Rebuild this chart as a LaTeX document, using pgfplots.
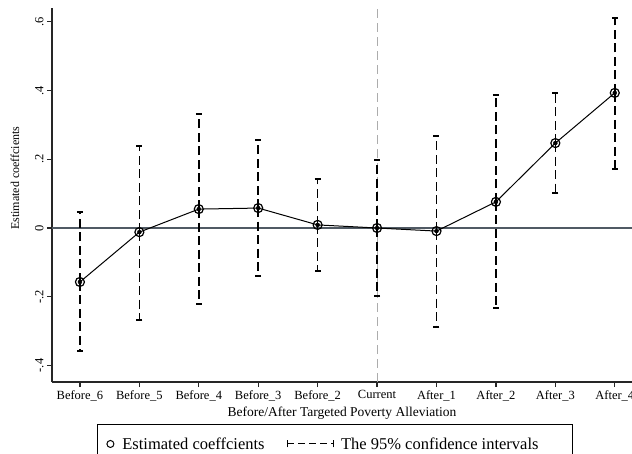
\documentclass[border=0pt]{standalone}
\usepackage{fontspec}
\setmainfont{Liberation Serif}
\usepackage{pgfplots}
\pgfplotsset{compat=1.18}
\usepackage{pgfplotstable}
\definecolor{zeroline}{RGB}{80,90,100}

\pgfplotstableread{
x y lo hi
0 -0.157 -0.358 0.047
1 -0.012 -0.268 0.239
2 0.055 -0.221 0.332
3 0.058 -0.140 0.256
4 0.009 -0.125 0.143
5 0.000 -0.198 0.198
6 -0.009 -0.288 0.268
7 0.076 -0.233 0.387
8 0.247 0.102 0.393
9 0.393 0.172 0.611
}\coef

\begin{document}
\begin{tikzpicture}[x=1pt,y=1pt]
\clip (-52,-71) rectangle (580,382);
\begin{axis}[
  at={(0,0)}, anchor=south west,
  scale only axis, width=580pt, height=374pt,
  xmin=-0.47, xmax=9.29, ymin=-0.448, ymax=0.64,
  axis lines=left,
  axis line style={-, line width=1.2pt, black!85},
  tick align=outside,
  major tick length=5pt,
  tick style={line width=1.2pt, black!85},
  xtick={0,...,9},
  xticklabels={Before\_6,Before\_5,Before\_4,Before\_3,Before\_2,Current,After\_1,After\_2,After\_3,After\_4},
  xticklabel style={font=\fontsize{12.5}{14}\selectfont},
  ytick={-0.4,-0.2,0,0.2,0.4,0.6},
  yticklabels={-.4,-.2,0,.2,.4,.6},
  yticklabel style={rotate=90, anchor=south, font=\fontsize{12.5}{14}\selectfont},
  xlabel={Before/After Targeted Poverty Alleviation},
  xlabel style={at={(axis description cs:0.5,-0.083)}, anchor=center, font=\fontsize{13.5}{15}\selectfont},
  ylabel={Estimated coeffcients},
  ylabel style={at={(axis description cs:-0.064,0.545)}, anchor=center, rotate=0, font=\fontsize{12}{14}\selectfont},
  legend columns=2,
  legend style={at={(axis description cs:0.0776,-0.1123)}, anchor=north west,
    draw=black, line width=0.8pt, font=\fontsize{16.5}{18}\selectfont,
    inner ysep=11pt, inner xsep=3pt,
    /tikz/every even column/.append style={column sep=20pt}},
  legend cell align=left,
]
\addplot[forget plot, gray!65, line width=1pt, dash pattern=on 9pt off 5pt] coordinates {(5,-0.448) (5,0.64)};
\addplot[forget plot, zeroline, line width=1.2pt] coordinates {(-0.47,0) (9.29,0)};
\addplot[forget plot, only marks, mark=none,
  error bars/.cd, y dir=both, y explicit,
  error bar style={black, line width=1.6pt, dash pattern=on 9pt off 4.5pt},
  error mark options={rotate=90, mark size=3pt, solid, line width=1.4pt, black}]
  table[x=x, y=y, y error plus expr=\thisrow{hi}-\thisrow{y}, y error minus expr=\thisrow{y}-\thisrow{lo}] {\coef};
\addplot[forget plot, black, line width=1pt, mark=o, mark size=4.5pt, mark options={line width=1.2pt}]
  table[x=x, y=y] {\coef};
\addlegendimage{legend image code/.code={
  \path[draw=none] (0pt,0pt) -- (20pt,0pt);
  \draw[black, line width=1pt] (10pt,0pt) circle (3.5pt);}}
\addlegendentry{Estimated coeffcients}
\addlegendimage{legend image code/.code={
  \path[draw=none] (0pt,0pt) -- (52pt,0pt);
  \draw[black, line width=1pt, dash pattern=on 7pt off 4pt] (0pt,0pt) -- (46pt,0pt);
  \draw[black, line width=1pt] (0pt,-3.5pt) -- (0pt,3.5pt);
  \draw[black, line width=1pt] (46pt,-3.5pt) -- (46pt,3.5pt);}}
\addlegendentry{\makebox[226pt][l]{The 95\% confidence intervals}}
\end{axis}
\end{tikzpicture}
\end{document}
